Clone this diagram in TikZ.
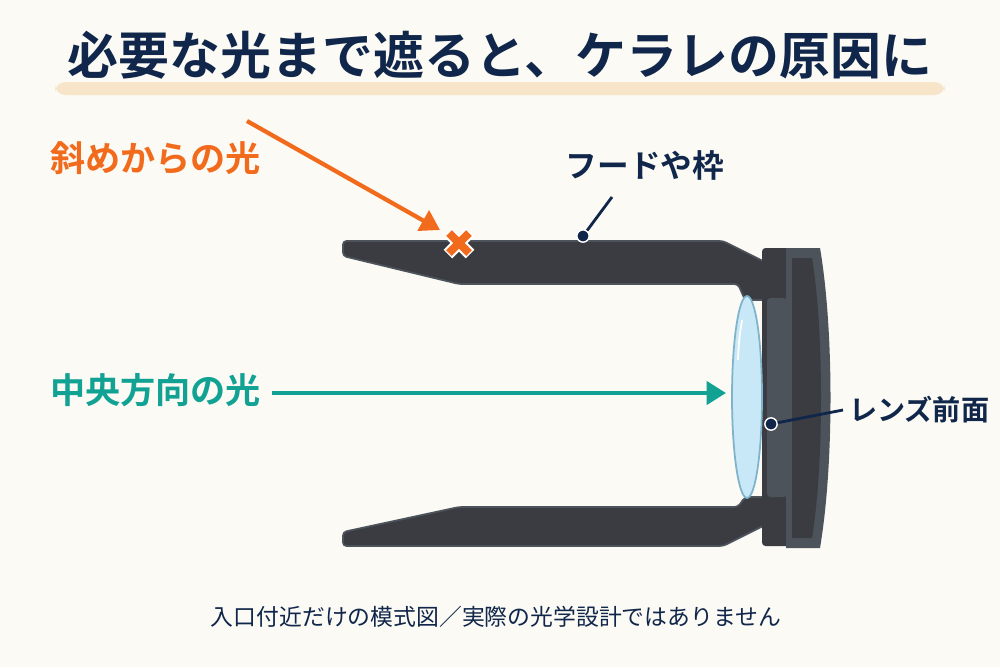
\documentclass[tikz,border=0pt]{standalone}
\usepackage{fontspec}
\newfontfamily\jpb{Noto Sans CJK JP Bold}
\newfontfamily\jp{Noto Sans CJK JP}
\usetikzlibrary{arrows.meta, positioning, shapes.geometric}
\definecolor{bgcol}{HTML}{FBFAF4}
\definecolor{navy}{HTML}{10264A}
\definecolor{hood}{HTML}{3A3C41}
\definecolor{hoodlight}{HTML}{4C535B}
\definecolor{orangeray}{HTML}{F26A1B}
\definecolor{tealray}{HTML}{11A293}
\definecolor{barcol}{HTML}{F8E4C9}
\definecolor{lensfill}{HTML}{C9E8F7}
\definecolor{lensedge}{HTML}{7FB3CC}
\begin{document}
\begin{tikzpicture}[
                x=0.02cm, y=-0.02cm,
                title/.style={font=\jpb\fontsize{29}{34}\selectfont, text=navy},
                raylabel/.style={font=\jpb\fontsize{20}{24}\selectfont},
                partlabel/.style={font=\jpb\fontsize{16}{19}\selectfont, text=navy},
                leader/.style={draw=navy, line width=1.6pt},
                pin/.style={circle, fill=navy, draw=white, line width=0.8pt, inner sep=0pt, minimum size=7pt},
                ray/.style={line width=2.6pt, -{Triangle[length=11pt, width=13pt]}}
                ]
                % Background
                \fill[bgcol] (0,0) rectangle (1000,667);
                \useasboundingbox (0,0) rectangle (1000,667);

                % Title
                \fill[barcol, rounded corners=6pt] (55,82) rectangle (945,95);
                \node[title] (title) at (500,55) {必要な光まで遮ると、ケラレの原因に};

                % Hood arms
                \fill[hood, draw=hoodlight, line width=1pt, rounded corners=2pt]
                    (343,241) -- (723,241) -- (765,262) -- (768,300) -- (745,300) -- (738,284) -- (459,284) -- (343,256) -- cycle;
                \fill[hood, draw=hoodlight, line width=1pt, rounded corners=2pt]
                    (343,546) -- (723,546) -- (765,525) -- (768,497) -- (745,497) -- (738,507) -- (459,507) -- (343,532) -- cycle;

                % Lens mount
                \fill[hood, rounded corners=2pt] (762,248) rectangle (792,546);
                \fill[hoodlight, rounded corners=2pt] (767,298) rectangle (787,497);
                \fill[hoodlight] (786,248) -- (820,248) .. controls (834,330) and (834,465) .. (820,548) -- (786,548) -- cycle;
                \fill[hood] (792,258) -- (812,258) .. controls (824,330) and (824,465) .. (812,538) -- (792,538) -- cycle;

                % Lens
                \node[ellipse, fill=lensfill, draw=lensedge, line width=1pt, minimum width=0.6cm, minimum height=4.04cm, inner sep=0pt] (lens) at (747,397) {};
                \draw[white, line width=1pt] (742,320) .. controls (739,340) .. (738,360);

                % Rays
                \node[raylabel, text=orangeray, anchor=west] (oblique) at (44,158) {斜めからの光};
                \node[raylabel, text=tealray, anchor=west] (central) at (44,390) {中央方向の光};
                \coordinate (obstart) at (247,121);
                \coordinate (blocked) at (459,243);
                \draw[ray, orangeray, line width=2.4pt] (obstart) -- (440,230);
                \foreach \dx in {1,-1}
                    \draw[white, line width=7pt] ([shift={(-11*\dx,-11)}]blocked) -- ([shift={(11*\dx,11)}]blocked);
                \foreach \dx in {1,-1}
                    \draw[orangeray, line width=4.5pt] ([shift={(-10*\dx,-10)}]blocked) -- ([shift={(10*\dx,10)}]blocked);
                \coordinate (censtart) at (272,393);
                \draw[ray, tealray] (censtart) -- (726,393);

                % Part labels
                \node[partlabel, font=\jpb\fontsize{18}{21}\selectfont] (hoodlbl) at (645,165) {フードや枠};
                \node[pin] (hoodpin) at (583,236) {};
                \draw[leader] (hoodpin) -- (612,197);
                \node[partlabel, anchor=west] (lenslbl) at (843,410) {レンズ前面};
                \node[pin] (lenspin) at (771,424) {};
                \draw[leader] (lenspin) -- (lenslbl.west);

                % Footnote
                \node[font=\jp\fontsize{13}{15}\selectfont, text=navy] (note) at (496,617) {入口付近だけの模式図／実際の光学設計ではありません};
                \end{tikzpicture}
\end{document}
